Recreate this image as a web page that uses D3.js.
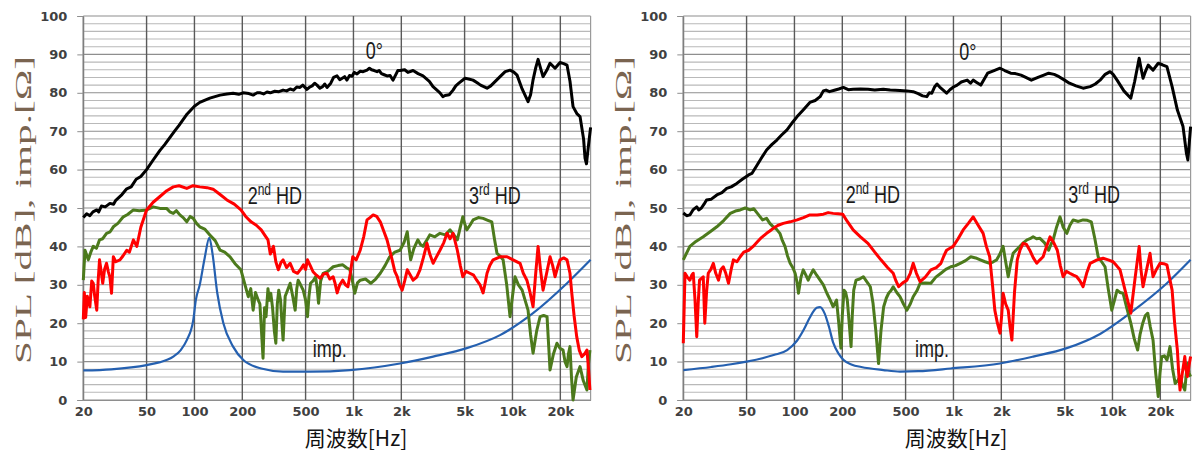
<!DOCTYPE html>
<html><head><meta charset="utf-8">
<script src="https://cdn.jsdelivr.net/npm/d3@7/dist/d3.min.js"></script>
<style>html,body{margin:0;padding:0;background:#fff;}svg{display:block;}</style>
</head><body>
<svg id="chart" width="1203" height="452"></svg>
<script>
// ---- tick definitions ----
const freqTicks = [20, 50, 100, 200, 500, 1000, 2000, 5000, 10000, 20000];
const freqTickLabels = ["20", "50", "100", "200", "500", "1k", "2k", "5k", "10k", "20k"];
const splTicks = [0, 10, 20, 30, 40, 50, 60, 70, 80, 90, 100];
const xTitle = "周波数[Hz]";
const yTitle = "SPL [dB], imp.[Ω]";

// ---- left chart series: [frequency Hz, value] ----
const leftOnAxis = [[20,47.5],[21,48.5],[22,48],[23,49],[24.3,49.5],[25,49],[26,50.5],[27.5,50.3],[29.4,51.2],[31,51],[32,52],[35,53.5],[37.5,55],[40,55.5],[43,57.5],[46,58.2],[50,60],[55,62.5],[60.7,65],[65,66.5],[70,68.3],[75,70],[80,71.5],[90,74.5],[100,76.5],[108,77.5],[125,78.6],[145,79.4],[160,79.7],[175,79.9],[190,79.6],[202,80],[220,79.8],[234,79.4],[248,80],[260,80],[272,79.7],[286,80.2],[300,80],[320,80.4],[340,80.3],[361,80.7],[380,80.5],[400,81],[420,80.7],[440,81.5],[461,81.4],[480,82],[510,80.9],[530,81.5],[550,81.8],[570,82.5],[590,82],[615,81.2],[640,81.6],[660,82.3],[682,81.4],[720,82.5],[750,84],[788,84.4],[820,83.4],[850,83.8],[880,84.2],[910,83.3],[945,84.5],[980,84.3],[1010,85.3],[1053,84.9],[1100,85.6],[1150,85.5],[1217,85.9],[1260,86.4],[1300,86],[1350,85.8],[1407,85.5],[1450,85.8],[1500,85],[1560,84.7],[1626,84.4],[1700,84.5],[1774,83.3],[1850,84.8],[1900,85.8],[1963,85.8],[2100,86],[2200,85.3],[2371,85.8],[2550,85],[2738,84.4],[3000,83],[3165,81.6],[3350,80.7],[3500,80],[3650,79],[3767,79.3],[4000,79.5],[4229,80.7],[4400,81.8],[4600,82.5],[5032,83.8],[5300,83.6],[5648,83.3],[6000,82.6],[6300,82],[6918,81.2],[7300,81.8],[7600,82.5],[8355,84.2],[9000,85.5],[9655,85.9],[10200,85.4],[10686,84.6],[11500,81],[12530,77.7],[13000,79.5],[13465,83.3],[14000,86.5],[14490,88.7],[15000,86.5],[15565,84.2],[16500,86],[17230,87.7],[18530,86.4],[19910,87.9],[21000,87.6],[22040,87.2],[23000,83],[24040,76.4],[25500,74.5],[26600,73.8],[28000,68],[28600,63],[29200,61.5],[30000,66],[31000,71]];
const leftHD2 = [[20,21],[20.3,28],[20.7,21.5],[21.2,27],[22,24.3],[22.6,31],[23.1,30.4],[23.6,27],[24.3,23.4],[24.8,31],[25.3,36.5],[26,33],[26.5,30.4],[27.2,34],[28,35.6],[28.7,33.5],[29.4,32],[30.1,27.8],[30.9,37.3],[32,36],[34,36.5],[35.5,37.5],[37.5,39],[39,38.5],[41.3,41.7],[43.4,40],[46,45],[50,49.5],[55,51.5],[60.7,53],[67,54.5],[73.6,55.5],[80,55.8],[89.5,55.1],[98,55.8],[108,55.5],[120,55.3],[131,54.9],[145,53.5],[160,52.1],[178,51],[196,49.5],[210,47.8],[227,46.4],[245,45.5],[263,44.3],[276,43],[290,41.7],[300,38],[314,40],[325,36],[337,33.9],[350,35.8],[361,36.5],[380,34.5],[400,35.6],[420,33.5],[445,33],[465,34],[485,35.2],[500,34],[514,36.5],[535,35],[557,33.4],[585,32.5],[617,31.7],[650,32.8],[682,33],[710,31.5],[745,32.1],[765,30.5],[790,27.9],[820,30],[857,31.2],[890,30],[923,29.5],[955,33],[990,37.3],[1040,36.5],[1103,39],[1160,42.5],[1217,46.9],[1270,47.5],[1330,48.2],[1400,47.8],[1475,46.4],[1550,44],[1626,41.7],[1690,39],[1751,36.5],[1820,33.5],[1885,32.1],[1950,30],[2025,28.6],[2100,31],[2180,33.9],[2280,32.5],[2373,31.2],[2500,32],[2620,33.9],[2750,37],[2900,40.8],[3020,38],[3170,35.6],[3300,37],[3500,39],[3700,41],[3880,43.4],[4050,42],[4234,43.4],[4500,39],[4700,35],[4870,32.1],[5100,33.5],[5390,33],[5700,32.5],[5960,31.2],[6250,30],[6535,27.9],[6700,30],[6918,33],[7200,35],[7553,36.5],[8355,37.3],[9240,37.3],[10088,36.5],[11160,35.6],[11700,33],[12320,31.2],[12900,28],[13474,24.3],[14000,33],[14490,40],[15000,34],[15570,28.6],[16400,33],[17230,37.3],[17900,35],[18530,32.1],[19200,34.5],[19910,36.5],[21000,37],[22040,36.5],[23000,33],[23600,27.9],[24400,22],[25350,16.5],[26300,13],[27300,11.3],[28400,12],[29400,13],[30100,8],[30700,2.6]];
const leftHD3 = [[20,31.2],[20.5,39],[21.5,36.5],[22.3,38.5],[23.1,40],[24.2,39.5],[25.3,41.7],[26.5,42],[28,43.4],[29.5,43.8],[30.9,45.1],[33,46],[35.7,47.7],[38,48.3],[41.3,49.5],[45,49.3],[50.1,49.5],[55,50.3],[60.7,49.9],[66.8,49.9],[70,49],[73.6,48.6],[77,49.3],[81,48.2],[85,47.5],[89.5,46.4],[94,47.8],[98.3,47.3],[103,46],[108,45.1],[116,44.5],[125,43],[135,41.5],[145,39],[155,38.5],[167.5,37.3],[180,35.5],[196,33.9],[208,30],[218,26.9],[226,29],[234,23.4],[242,28],[252,26],[258,25],[264,18],[270,10.9],[276,24],[282,21.7],[290,29],[296,26],[302,27.8],[310,24],[318,18],[325,14.8],[332,25],[339,28.6],[348,26],[355,20],[361,15.6],[372,27],[385,28.6],[400,30.4],[415,27],[430,23.4],[440,29],[449,31.2],[465,30],[483,28.6],[500,26],[514,21.7],[525,27],[537,30.4],[557,31],[578,32.1],[592,29],[603,25.2],[622,31],[645,33],[690,33.5],[746,34.7],[800,35],[857,35.2],[900,34.5],[950,33.9],[985,31],[1020,27.8],[1060,30.5],[1103,31.2],[1190,31.5],[1285,30.4],[1380,31.5],[1475,33],[1580,35],[1690,37.3],[1820,38.5],[1963,39],[2080,41],[2180,43.8],[2230,40],[2290,36.5],[2400,39.5],[2540,41.7],[2640,40.5],[2738,40],[2880,41.5],[3020,43],[3250,42.5],[3500,43.4],[3780,43],[4050,44.3],[4280,43],[4500,41.7],[4700,45],[4870,47.7],[5000,46],[5160,44.3],[5400,45.5],[5655,46.9],[6100,47.5],[6535,47.3],[7000,46.8],[7410,46.4],[7700,42],[7990,38.2],[8350,37.5],[8730,36.5],[9200,30],[9655,21.7],[10000,27],[10380,32.1],[10900,30],[11500,28.6],[12000,26],[12530,23.4],[13000,17],[13474,12.2],[14200,18],[14920,21.7],[15700,22],[16500,21.7],[16900,14],[17230,7.8],[18100,12],[19040,14.8],[19900,13.5],[20800,13],[21400,10],[22040,8.7],[22500,12],[23000,13.9],[23500,6],[24040,0],[25200,6],[26600,8.7],[27900,5],[29400,2.6],[30000,9],[30700,13]];
const leftImp = [[20,7.7],[30,8],[40,8.5],[50,9.1],[60,9.8],[73.6,11.3],[82,13],[89.5,15.6],[98.3,20.8],[102,26],[108,30],[116,37],[124,42.2],[130,38],[139,28],[152,20],[175,13.9],[203,10.4],[263,8.2],[361,7.4],[537,7.4],[950,7.8],[1963,9.5],[3170,11.3],[5160,13.5],[8355,16.9],[13474,22.6],[22040,30.4],[31000,36.5]];

// ---- right chart series ----
const rightOnAxis = [[20,48.7],[21,48],[22,48.2],[23,49.5],[24.3,50.3],[25,49.5],[26,50],[27,51],[28,52.1],[30,52.3],[32.5,53.4],[35,54],[37.5,55.1],[40,55.5],[43.4,56.4],[47,57.5],[51.5,58.6],[54,59],[57.5,60.8],[62,63],[66.8,65.1],[72,66.5],[77.5,67.7],[83,69],[89.5,70.3],[96,72],[104,73.8],[115,75.8],[125,77.5],[135,78],[145,79],[152,80.5],[158,80.7],[166,80.3],[176,80.6],[190,81],[203,81.4],[218,80.8],[234,80.9],[260,81],[290,80.9],[320,80.7],[362,80.9],[400,80.7],[461,80.6],[510,80.5],[558,80.3],[600,79.8],[640,79.2],[680,79],[705,80],[731,79.9],[760,81.5],[788,82.3],[820,81.5],[862,80.7],[905,79.9],[950,80.8],[1000,81.5],[1055,82],[1120,82.8],[1220,83.3],[1280,82.5],[1330,83.3],[1400,82.7],[1485,82],[1560,83.5],[1640,85.1],[1800,85.8],[1963,86.4],[2100,85.8],[2290,85.1],[2450,85],[2660,84.6],[2850,84],[3090,83.3],[3400,84],[3700,84.6],[3970,85.1],[4300,84.8],[4610,84.2],[5000,83.3],[5360,82.5],[5900,81.8],[6535,81.2],[7240,81.6],[7800,82.3],[8355,83.3],[9000,84.8],[9655,85.5],[10100,84.8],[10690,83.3],[11800,80.5],[13040,78.6],[13800,83],[14720,89],[15100,86.5],[15570,83.8],[16100,85.5],[16780,87.2],[18000,85.9],[19400,87.7],[20600,87.3],[22000,86.8],[23720,81.6],[25600,75.5],[27780,71.2],[29200,64.2],[29800,62.5],[31000,71.2]];
const rightHD2 = [[20,14.8],[20.5,33],[21.2,32],[22,31.2],[22.6,32.5],[23.1,33],[23.7,26],[24.3,16.5],[24.8,25],[25.3,31.2],[26.7,32.1],[27.3,20],[28,28],[28.7,33],[29.8,34],[30.9,35.6],[32,33],[33.3,31.2],[34.5,34],[35.7,34.7],[37,33],[38.5,30.4],[40,34],[41.3,36.5],[43.5,36],[45.6,37.3],[48,38.5],[51.5,39],[55,40],[58.5,41.2],[62,42.3],[66.8,43.4],[70,44],[73.6,44.7],[79,45.5],[85.1,46],[94,46.4],[104,46.9],[114,47.5],[125,48.2],[139,48.2],[152,48.4],[163,48.8],[175,48.6],[188,48.5],[201,48.4],[215,46.5],[234,44.3],[260,42.5],[290,40.8],[320,38.5],[350,36.5],[385,34.5],[418,33],[435,31],[452,29.5],[480,30.5],[510,31.2],[535,33],[558,35.6],[585,33],[617,30.8],[665,32],[721,33.9],[780,34.5],[834,35.6],[870,37.5],[905,39],[950,39.5],[996,40],[1070,42],[1151,44.3],[1240,46],[1330,47.7],[1430,45.5],[1537,43.4],[1610,40],[1690,37.3],[1760,30],[1820,23.4],[1890,20],[1963,17.4],[2010,22],[2053,27.8],[2130,25],[2210,23.4],[2270,19],[2330,15.6],[2420,28],[2520,36.5],[2620,39],[2743,40.8],[2880,40.5],[3020,39],[3180,37],[3340,35.6],[3500,36.5],[3663,37.3],[3850,40],[4050,42.5],[4270,41],[4500,39],[4700,35],[4893,32.1],[5130,33.5],[5390,33],[5680,32.5],[5960,32.1],[6250,31],[6535,29.5],[6880,33],[7240,35.6],[8000,36.5],[8729,36.9],[9400,36.5],[10088,36],[10600,35],[11160,33.9],[12100,28],[13040,22.6],[13900,32],[14720,40],[15100,34],[15570,29.5],[16400,34],[17230,38.2],[17600,35],[17997,32.1],[18900,34],[19910,35.6],[21000,35.5],[22000,35.2],[22800,32],[23720,28.6],[24600,20],[25600,13],[26100,7],[26600,2.6],[27500,7],[28500,11.3],[29000,8],[29600,6.1],[30300,9],[31000,11.3]];
const rightHD3 = [[20,36.5],[22,40],[24,41.3],[26.7,42.5],[29.5,43.8],[32.5,45.1],[36,46.8],[39.5,48.6],[42.5,49.2],[45.6,49.5],[49,50],[52.7,49.5],[55.5,49.8],[58.5,48.6],[63,46.9],[66.8,47.3],[70,46],[73.6,45.1],[77,44.5],[81,43.4],[84,41.5],[87.2,40],[90.5,37.5],[94,35.6],[97.5,34.5],[101,33],[104,30.5],[106,27.8],[110,32],[113.6,33.9],[118,32.5],[122,31.2],[126,32.5],[131.3,33.9],[138,32.5],[145,31.2],[152,30],[160,27.8],[168,26],[175,24.3],[184,26],[190,20],[196,13.5],[200,22],[205,28.6],[210,28],[215,26],[221,20],[227,13.9],[231,22],[236,28.6],[244,31.2],[257,31.5],[271,32.1],[290,30.4],[300,29.5],[312,25.2],[325,18],[338,9.5],[350,18],[364,24.3],[378,26.5],[391,27.8],[405,28.5],[418,29.5],[440,28],[461,26.9],[485,25],[510,23.4],[535,25],[558,26.9],[590,28.5],[617,30.4],[665,30.5],[721,30.4],[775,32],[834,33],[895,34],[963,34.7],[1030,35],[1103,35.6],[1190,36.3],[1285,37.3],[1380,37],[1475,36.5],[1580,36],[1690,35.6],[1780,36],[1870,36.5],[1960,38],[2053,40],[2130,36],[2210,32.1],[2290,35.5],[2373,38.2],[2500,39.2],[2620,40],[2760,41],[2900,41.7],[3030,42],[3170,42.5],[3330,42],[3500,42.1],[3730,41],[3970,39],[4100,40.5],[4234,41.7],[4450,45],[4680,47.7],[4900,45],[5160,43.4],[5400,45.5],[5655,46.9],[6100,46.5],[6535,46.9],[6950,46.8],[7360,46.4],[7750,42],[8130,37.3],[8550,36],[8980,34.7],[9400,29],[9900,23.4],[10300,26],[10690,28.6],[11160,28],[11659,27.8],[12300,24],[13040,20],[13700,16],[14400,13],[14900,17],[15500,20],[16100,22],[16680,22.6],[17300,19],[17997,15.6],[18700,7],[19400,0.9],[19900,7],[20400,11.3],[21200,11.5],[22000,10.4],[22500,12],[23000,13.9],[23900,8],[24800,4.3],[25700,5],[26600,6.1],[27500,4],[28500,2.6],[29000,6],[29600,9.5],[30300,7],[31000,6.1]];
const rightImp = [[20,7.8],[30,8.6],[40,9.3],[50,10],[74,11.7],[90,13],[104,15.5],[115,18.5],[125,21.5],[138,24],[145,24.2],[155,22.5],[165,19],[175,15],[190,12],[203,10.5],[230,9.2],[263,8.6],[362,7.8],[461,7.4],[600,7.5],[963,8.2],[1963,9.5],[3170,11.3],[5160,13.5],[8355,17.2],[13474,23.2],[22000,30.4],[31000,36.5]];

// annotation labels
const labelsLeft = [
  {main:"0", sup:"", rest:"°", f:1194, v:88.8},
  {main:"2", sup:"nd", rest:" HD", f:216, v:51},
  {main:"3", sup:"rd", rest:" HD", f:5330, v:51},
  {main:"imp.", sup:"", rest:"", f:554, v:11.3}
];
const labelsRight = [
  {main:"0", sup:"", rest:"°", f:1088, v:88.5},
  {main:"2", sup:"nd", rest:" HD", f:210, v:51.3},
  {main:"3", sup:"rd", rest:" HD", f:5277, v:51.3},
  {main:"imp.", sup:"", rest:"", f:573, v:11.3}
];

const panels = [
  {ox:0, onAxis:leftOnAxis, hd2:leftHD2, hd3:leftHD3, imp:leftImp, labels:labelsLeft},
  {ox:600, onAxis:rightOnAxis, hd2:rightHD2, hd3:rightHD3, imp:rightImp, labels:labelsRight}
];

const svg = d3.select("#chart");
const gridMinor = d3.range(0, 101, 2);

panels.forEach(p => {
  const g = svg.append("g").attr("transform", `translate(${p.ox},0)`);
  const x = d3.scaleLog().domain([20, 31000]).range([83.3, 590.6]);
  const y = d3.scaleLinear().domain([0, 100]).range([400, 16]);

  // horizontal grid
  g.append("g").selectAll("line").data(gridMinor).join("line")
    .attr("x1", x(20)).attr("x2", x(31000))
    .attr("y1", d => y(d)).attr("y2", d => y(d))
    .attr("stroke", d => d % 10 === 0 ? "#8e8e8e" : "#b9b9b9")
    .attr("stroke-width", 1.1);
  // vertical grid
  g.append("g").selectAll("line").data(freqTicks).join("line")
    .attr("x1", d => x(d)).attr("x2", d => x(d))
    .attr("y1", y(0)).attr("y2", y(100))
    .attr("stroke", "#5a5a5a").attr("stroke-width", 1.4);
  // right border
  g.append("line").attr("x1", x(31000)).attr("x2", x(31000)).attr("y1", y(0)).attr("y2", y(100))
    .attr("stroke", "#9a9a9a").attr("stroke-width", 1.2);

  // axes
  const yAxis = g.append("g").attr("transform", `translate(${x(20)},0)`)
    .call(d3.axisLeft(y).tickValues(splTicks).tickSize(6).tickPadding(10));
  yAxis.select(".domain").attr("stroke", "#8e8e8e");
  yAxis.selectAll(".tick line").attr("stroke", "#8e8e8e");
  yAxis.selectAll("text").attr("font-family", "DejaVu Sans").attr("font-weight", "bold")
    .attr("font-size", 13).attr("fill", "#404040");

  const xAxis = g.append("g").attr("transform", `translate(0,${y(0)})`)
    .call(d3.axisBottom(x).tickValues(freqTicks).tickFormat((d, i) => freqTickLabels[i]).tickSize(0).tickPadding(7));
  xAxis.select(".domain").attr("stroke", "#8e8e8e");
  xAxis.selectAll("text").attr("font-family", "DejaVu Sans").attr("font-weight", "bold")
    .attr("font-size", 13).attr("fill", "#404040");

  // series
  const line = d3.line().x(d => x(d[0])).y(d => y(d[1]));
  const smooth = d3.line().x(d => x(d[0])).y(d => y(d[1])).curve(d3.curveMonotoneX);
  g.append("path").datum(p.imp).attr("d", smooth).attr("fill", "none")
    .attr("stroke", "#2560b0").attr("stroke-width", 2.2);
  g.append("path").datum(p.hd3).attr("d", line).attr("fill", "none")
    .attr("stroke", "#4c7a1c").attr("stroke-width", 3).attr("stroke-linejoin", "round");
  g.append("path").datum(p.hd2).attr("d", line).attr("fill", "none")
    .attr("stroke", "#ff0000").attr("stroke-width", 3).attr("stroke-linejoin", "round");
  g.append("path").datum(p.onAxis).attr("d", line).attr("fill", "none")
    .attr("stroke", "#000").attr("stroke-width", 3).attr("stroke-linejoin", "round");

  // annotations
  p.labels.forEach(l => {
    const t = g.append("text")
      .attr("transform", `translate(${x(l.f)},${y(l.v)}) scale(1,1.3)`)
      .attr("font-family", "Liberation Sans").attr("font-size", 18).attr("fill", "#1a1a1a");
    t.append("tspan").text(l.main);
    if (l.sup) t.append("tspan").attr("font-size", 12).attr("dy", -7).text(l.sup);
    if (l.rest) t.append("tspan").attr("dy", l.sup ? 7 : 0).text(l.rest);
  });

  // axis titles
  g.append("text").attr("x", 356).attr("y", 446).attr("text-anchor", "middle")
    .attr("font-family", "Noto Sans CJK JP").attr("font-size", 21).attr("fill", "#111")
    .text(xTitle);
  g.append("text").attr("transform", `translate(31,210) rotate(-90)`)
    .attr("text-anchor", "middle").attr("font-family", "Liberation Serif").attr("font-size", 24)
    .attr("textLength", 308).attr("lengthAdjust", "spacingAndGlyphs")
    .attr("fill", "#7a6450")
    .text(yTitle);
});
</script>
</body></html>
